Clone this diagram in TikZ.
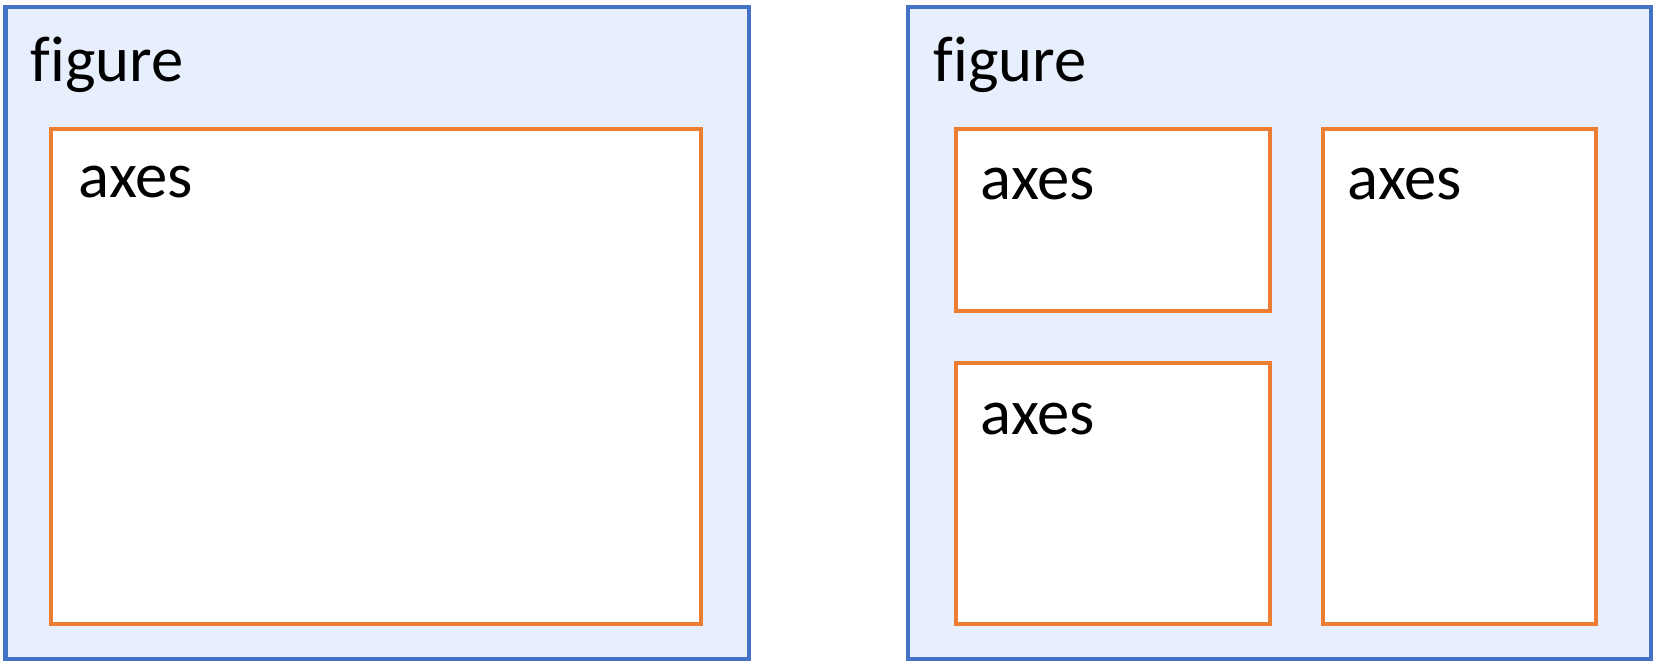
\documentclass[tikz,border=0pt]{standalone}
\usepackage{fontspec}
\setmainfont{Carlito}[Ligatures=NoCommon]
\definecolor{figblue}{HTML}{4472C4}
\definecolor{figfill}{HTML}{E7EEFC}
\definecolor{axorange}{HTML}{ED7D31}
\tikzset{
  figbox/.style={draw=figblue, fill=figfill, line width=0.04cm},
  axbox/.style={draw=axorange, fill=white, line width=0.04cm},
  lbl/.style={anchor=base west, inner sep=0pt, font=\fontsize{18.4pt}{21pt}\selectfont}
}
\begin{document}
\begin{tikzpicture}[x=0.01cm, y=-0.01cm]
			%%%%% START %%%%%
			\useasboundingbox (0, 0) rectangle (1656, 667);
			
			% one axes
			\draw[figbox] (5.5, 7.5) rectangle (748.5, 659);
			\node[lbl] (figureL) at (30, 82) {figure};
			\draw[axbox] (51, 129) rectangle (701, 624);
			\node[lbl] (axesL) at (78, 198) {axes};
			
			% three axes
			\draw[figbox] (908, 7.5) rectangle (1651, 659);
			\node[lbl] (figureR) at (933, 82) {figure};
			\draw[axbox] (956, 129) rectangle (1270, 311);
			\node[lbl] (axesTL) at (980, 200) {axes};
			\draw[axbox] (956, 363.5) rectangle (1270, 624);
			\node[lbl] (axesBL) at (980, 435) {axes};
			\draw[axbox] (1323, 129) rectangle (1596, 624);
			\node[lbl] (axesR) at (1347, 200) {axes};
			
			%%%%% END %%%%%
\end{tikzpicture}
\end{document}
